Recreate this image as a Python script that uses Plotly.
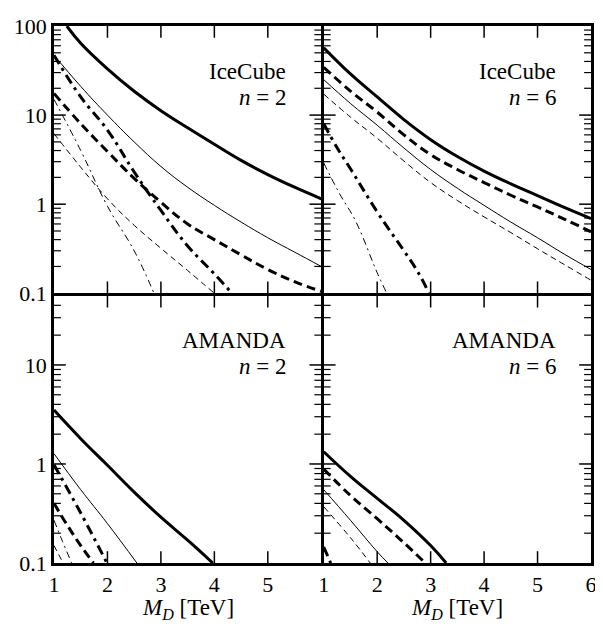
import math
import plotly.graph_objects as go

# ---------------- data ----------------
# IceCube, n = 2  (top-left)
ic2_thick_solid_x = [1.24, 1.5, 2, 2.5, 3, 3.5, 4, 4.5, 5, 5.5, 6]
ic2_thick_solid_y = [100, 64, 33, 18.5, 11.2, 7.2, 4.7, 3.1, 2.15, 1.55, 1.15]
ic2_thin_solid_x = [1, 1.5, 2, 2.5, 3, 3.5, 4, 4.5, 5, 5.5, 6]
ic2_thin_solid_y = [47, 21, 10, 5.0, 2.65, 1.55, 0.97, 0.63, 0.42, 0.29, 0.2]
ic2_thick_dash_x = [1, 1.5, 2, 2.5, 3, 3.5, 4, 4.5, 5, 5.5, 6]
ic2_thick_dash_y = [17.5, 8.0, 3.9, 1.95, 1.05, 0.6, 0.40, 0.27, 0.185, 0.135, 0.105]
ic2_thick_dashdot_x = [1, 1.5, 2, 2.5, 3, 3.5, 4, 4.33]
ic2_thick_dashdot_y = [47, 16, 6.8, 2.3, 0.85, 0.34, 0.165, 0.1]
ic2_thin_dashdot_x = [1, 1.5, 2, 2.5, 2.87]
ic2_thin_dashdot_y = [15, 4.0, 0.95, 0.3, 0.1]
ic2_thin_dash_x = [1, 1.5, 2, 2.5, 3, 3.5, 4]
ic2_thin_dash_y = [6.2, 2.6, 1.15, 0.58, 0.32, 0.18, 0.1]

# IceCube, n = 6  (top-right)
ic6_thick_solid_x = [1, 1.5, 2, 2.5, 3, 3.5, 4, 4.5, 5, 5.5, 6]
ic6_thick_solid_y = [57, 29, 16, 8.9, 5.3, 3.43, 2.35, 1.69, 1.25, 0.92, 0.69]
ic6_thick_dash_x = [1, 1.5, 2, 2.5, 3, 3.5, 4, 4.5, 5, 5.5, 6]
ic6_thick_dash_y = [34.4, 18.6, 10.8, 6.0, 3.6, 2.45, 1.75, 1.26, 0.93, 0.68, 0.49]
ic6_thin_solid_x = [1, 1.5, 2, 2.5, 3, 3.5, 4, 4.5, 5, 5.5, 6]
ic6_thin_solid_y = [25, 13.5, 7.7, 4.27, 2.45, 1.51, 0.97, 0.63, 0.42, 0.275, 0.185]
ic6_thin_dash_x = [1, 1.5, 2, 2.5, 3, 3.5, 4, 4.5, 5, 5.5, 6]
ic6_thin_dash_y = [17.2, 9.5, 5.5, 3.05, 1.75, 1.1, 0.72, 0.48, 0.316, 0.21, 0.14]
ic6_thick_dashdot_x = [1, 1.25, 1.5, 2, 2.5, 2.77, 2.97]
ic6_thick_dashdot_y = [8, 4.3, 2.5, 0.82, 0.3, 0.17, 0.1]
ic6_thin_dashdot_x = [1, 1.3, 1.6, 2, 2.18]
ic6_thin_dashdot_y = [2.9, 1.3, 0.64, 0.17, 0.1]

# AMANDA, n = 2  (bottom-left)
am2_thick_solid_x = [1, 1.5, 2, 2.5, 3, 3.5, 3.97]
am2_thick_solid_y = [3.5, 1.8, 0.97, 0.52, 0.29, 0.17, 0.1]
am2_thin_solid_x = [1, 1.5, 2, 2.55]
am2_thin_solid_y = [1.27, 0.55, 0.25, 0.1]
am2_thick_dashdot_x = [1, 1.5, 1.99]
am2_thick_dashdot_y = [0.98, 0.32, 0.1]
am2_thick_dash_x = [1, 1.25, 1.5, 1.74]
am2_thick_dash_y = [0.4, 0.24, 0.15, 0.1]
am2_thin_dashdot_x = [1, 1.15, 1.33]
am2_thin_dashdot_y = [0.27, 0.17, 0.1]
am2_thin_dash_x = [1, 1.17]
am2_thin_dash_y = [0.15, 0.1]

# AMANDA, n = 6  (bottom-right)
am6_thick_solid_x = [1, 1.5, 2, 2.5, 3, 3.29]
am6_thick_solid_y = [1.33, 0.75, 0.45, 0.27, 0.15, 0.1]
am6_thick_dash_x = [1, 1.5, 2, 2.5, 2.9]
am6_thick_dash_y = [0.89, 0.48, 0.28, 0.16, 0.1]
am6_thin_solid_x = [1, 1.5, 2, 2.2]
am6_thin_solid_y = [0.55, 0.27, 0.13, 0.1]
am6_thin_dash_x = [1, 1.5, 1.87]
am6_thin_dash_y = [0.37, 0.18, 0.1]
am6_thick_dashdot_x = [1, 1.13]
am6_thick_dashdot_y = [0.145, 0.1]

# axis ranges / ticks / labels
x_min, x_max = 1, 6
x_inner_ticks = [2, 3, 4, 5]
y_min = 0.1
y_max_top = 100
y_max_bottom = 50
y_decades = [0.1, 1, 10, 100]
y_minor_digits = [2, 3, 4, 5, 6, 7, 8, 9]
hidden_x_label_left = {"6": " "}   # the left panel leaves its "6" unlabelled

panel_titles = [("IceCube", "<i>n</i> = 2"), ("IceCube", "<i>n</i> = 6"),
                ("AMANDA", "<i>n</i> = 2"), ("AMANDA", "<i>n</i> = 6")]
x_title = "<i>M</i><sub><i>D</i></sub> [TeV]"

# ---------------- styles ----------------
STYLES = {
    "thick_solid": dict(width=3, dash="solid"),
    "thin_solid": dict(width=1, dash="solid"),
    "thick_dash": dict(width=3, dash="9px,5px"),
    "thin_dash": dict(width=1, dash="6px,4px"),
    "thick_dashdot": dict(width=3, dash="10px,5px,3px,5px"),
    "thin_dashdot": dict(width=1, dash="7px,4px,2px,4px"),
}

panels = [
    ("x", "y", y_max_top,
     [("thick_solid", ic2_thick_solid_x, ic2_thick_solid_y),
      ("thin_solid", ic2_thin_solid_x, ic2_thin_solid_y),
      ("thick_dash", ic2_thick_dash_x, ic2_thick_dash_y),
      ("thick_dashdot", ic2_thick_dashdot_x, ic2_thick_dashdot_y),
      ("thin_dashdot", ic2_thin_dashdot_x, ic2_thin_dashdot_y),
      ("thin_dash", ic2_thin_dash_x, ic2_thin_dash_y)]),
    ("x2", "y2", y_max_top,
     [("thick_solid", ic6_thick_solid_x, ic6_thick_solid_y),
      ("thick_dash", ic6_thick_dash_x, ic6_thick_dash_y),
      ("thin_solid", ic6_thin_solid_x, ic6_thin_solid_y),
      ("thin_dash", ic6_thin_dash_x, ic6_thin_dash_y),
      ("thick_dashdot", ic6_thick_dashdot_x, ic6_thick_dashdot_y),
      ("thin_dashdot", ic6_thin_dashdot_x, ic6_thin_dashdot_y)]),
    ("x3", "y3", y_max_bottom,
     [("thick_solid", am2_thick_solid_x, am2_thick_solid_y),
      ("thin_solid", am2_thin_solid_x, am2_thin_solid_y),
      ("thick_dashdot", am2_thick_dashdot_x, am2_thick_dashdot_y),
      ("thick_dash", am2_thick_dash_x, am2_thick_dash_y),
      ("thin_dashdot", am2_thin_dashdot_x, am2_thin_dashdot_y),
      ("thin_dash", am2_thin_dash_x, am2_thin_dash_y)]),
    ("x4", "y4", y_max_bottom,
     [("thick_solid", am6_thick_solid_x, am6_thick_solid_y),
      ("thick_dash", am6_thick_dash_x, am6_thick_dash_y),
      ("thin_solid", am6_thin_solid_x, am6_thin_solid_y),
      ("thin_dash", am6_thin_dash_x, am6_thin_dash_y),
      ("thick_dashdot", am6_thick_dashdot_x, am6_thick_dashdot_y)]),
]

FONT = "Liberation Serif"
FS = 22
INVISIBLE = "rgba(0,0,0,0)"

fig = go.Figure()
for xa, ya, ymax, series in panels:
    for style, xs, ys in series:
        st = STYLES[style]
        fig.add_trace(go.Scatter(
            x=xs, y=ys, mode="lines", xaxis=xa, yaxis=ya,
            line=dict(color="black", width=st["width"], dash=st["dash"],
                      shape="spline", smoothing=1.2),
            showlegend=False))

LW = 2.5
common = dict(showline=True, linecolor="black", linewidth=LW, mirror=True,
              ticks="", showgrid=False, zeroline=False)

# page body has an 8px margin, so the figure is made 8px smaller
W, H = 595, 618
ML, MR, MT, MB = 44, 6, 9, 63
PW = W - ML - MR
PH = H - MT - MB
g = LW / 2
xl = [0, (PW / 2 - g) / PW]
xr = [(PW / 2 + g) / PW, 1]
yt = [(PH / 2 + g) / PH, 1]
yb = [0, (PH / 2 - g) / PH]
panel_w = PW * (xl[1] - xl[0])
panel_h = PH * (yb[1] - yb[0])


def label_font(show):
    return dict(family=FONT, size=FS, color="black" if show else INVISIBLE)


def xaxis(domain, anchor, show, alias=None):
    d = dict(common, domain=domain, anchor=anchor, range=[x_min, x_max],
             tickmode="linear", tick0=1, dtick=1, tickfont=label_font(show))
    if alias:
        d["labelalias"] = alias
    return d


def yaxis(domain, anchor, ymax, show):
    return dict(common, domain=domain, anchor=anchor, type="log",
                range=[math.log10(y_min), math.log10(ymax)], tickmode="linear",
                tick0=0, dtick=1, tickfont=label_font(show), ticklabeloverflow="allow")


fig.update_layout(
    width=W, height=H,
    margin=dict(l=ML, r=MR, t=MT, b=MB),
    paper_bgcolor="white", plot_bgcolor="white",
    xaxis=xaxis(xl, "y", False),
    xaxis2=xaxis(xr, "y2", False),
    xaxis3=xaxis(xl, "y3", True, hidden_x_label_left),
    xaxis4=xaxis(xr, "y4", True),
    yaxis=yaxis(yt, "x", y_max_top, True),
    yaxis2=yaxis(yt, "x2", y_max_top, False),
    yaxis3=yaxis(yb, "x3", y_max_bottom, True),
    yaxis4=yaxis(yb, "x4", y_max_bottom, False),
)

# ---------------- inward tick marks on all four sides of each panel ----------------
MAJ, MIN = 12, 7
shapes = []
for xa, ya, ymax, _ in panels:
    lo, hi = math.log10(y_min), math.log10(ymax)
    xlen_maj, xlen_min = MAJ / panel_w, MIN / panel_w
    ylen = MAJ / panel_h
    # x ticks (bottom and top)
    for v in x_inner_ticks:
        for y0, y1 in ((0, ylen), (1, 1 - ylen)):
            shapes.append(dict(type="line", xref=xa, yref=ya + " domain",
                               x0=v, x1=v, y0=y0, y1=y1,
                               line=dict(color="black", width=1.5)))
    # y ticks (left and right)
    ticks_y = [(d, xlen_maj, 1.5) for d in y_decades]
    ticks_y += [(k * d, xlen_min, 1.2) for d in y_decades for k in y_minor_digits]
    for v, ln, wd in ticks_y:
        lv = math.log10(v)
        if not (lo < lv < hi - 1e-9):
            continue
        f = (lv - lo) / (hi - lo)
        for x0, x1 in ((0, ln), (1, 1 - ln)):
            shapes.append(dict(type="line", xref=xa + " domain", yref=ya + " domain",
                               x0=x0, x1=x1, y0=f, y1=f,
                               line=dict(color="black", width=wd)))

ann = []
refs = [("x", "y"), ("x2", "y2"), ("x3", "y3"), ("x4", "y4")]
for (xa, ya), (t1, t2) in zip(refs, panel_titles):
    for txt, dy in ((t1, -45), (t2, -71)):
        ann.append(dict(text=txt, xref=xa + " domain", yref=ya + " domain",
                        x=1, y=1, xanchor="right", yanchor="middle",
                        xshift=-33, yshift=dy, showarrow=False,
                        font=dict(family=FONT, size=FS + 1, color="black")))
for xa in ("x3", "x4"):
    ann.append(dict(text=x_title, xref=xa + " domain", yref="paper",
                    x=0.5, y=0, xanchor="center", yanchor="middle",
                    yshift=-46, showarrow=False,
                    font=dict(family=FONT, size=FS + 1, color="black")))
fig.update_layout(annotations=ann, shapes=shapes)

fig.write_html("out.html")
